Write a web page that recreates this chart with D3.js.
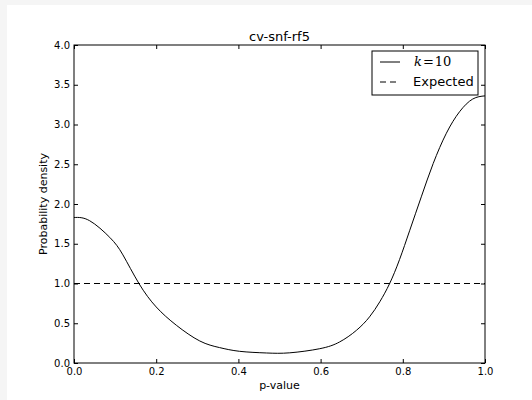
<!DOCTYPE html>
<html>
<head>
<meta charset="utf-8">
<script src="https://cdn.jsdelivr.net/npm/d3@7"></script>
<style>
  html, body { margin: 0; padding: 0; background: #f5f5f5; }
  svg { display: block; }
  text { font-family: "DejaVu Sans", sans-serif; fill: #000; }
</style>
</head>
<body>
<script>
// p-values and density
var pValues = [0, 0.038, 0.087, 0.119, 0.158, 0.2, 0.249, 0.306, 0.354, 0.403, 0.468,
               0.525, 0.598, 0.646, 0.687, 0.719, 0.744, 0.768, 0.792, 0.817, 0.845,
               0.874, 0.906, 0.938, 0.97, 1.0];
var density = [1.83, 1.79, 1.58, 1.36, 1.0, 0.705, 0.475, 0.277, 0.194, 0.147, 0.126,
               0.128, 0.18, 0.264, 0.41, 0.58, 0.77, 1.0, 1.3, 1.67, 2.09,
               2.51, 2.89, 3.16, 3.32, 3.36];
var expected = [[0, 1], [1, 1]];
var xTicks = [0, 0.2, 0.4, 0.6, 0.8, 1.0];
var yTicks = [0, 0.5, 1.0, 1.5, 2.0, 2.5, 3.0, 3.5, 4.0];

var W = 532, H = 400;
var axL = 74, axR = 485, axT = 45, axB = 363;

var svg = d3.select("body").append("svg")
    .attr("width", W)
    .attr("height", H);

// white figure area
svg.append("rect")
    .attr("x", 7).attr("y", 5)
    .attr("width", W - 7).attr("height", H - 5)
    .attr("fill", "#fff");

var x = d3.scaleLinear().domain([0, 1]).range([axL, axR]);
var y = d3.scaleLinear().domain([0, 4]).range([axB, axT]);

var data = pValues.map(function (p, i) { return [p, density[i]]; });

var line = d3.line()
    .x(function (d) { return x(d[0]); })
    .y(function (d) { return y(d[1]); })
    .curve(d3.curveNatural);

svg.append("path")
    .datum(data)
    .attr("d", line)
    .attr("fill", "none")
    .attr("stroke", "#000")
    .attr("stroke-width", 1);

svg.append("path")
    .datum(expected)
    .attr("d", line)
    .attr("fill", "none")
    .attr("stroke", "#000")
    .attr("stroke-width", 1)
    .attr("stroke-dasharray", "6,4");

// axes, ticks inside on all four sides
var tk = -4;
svg.append("g").attr("transform", "translate(0," + axB + ")")
    .call(d3.axisBottom(x).tickValues(xTicks).tickSizeInner(tk).tickSizeOuter(0).tickPadding(5)
        .tickFormat(d3.format(".1f")));
svg.append("g").attr("transform", "translate(0," + axT + ")")
    .call(d3.axisTop(x).tickValues(xTicks).tickSizeInner(tk).tickSizeOuter(0).tickFormat(""));
svg.append("g").attr("transform", "translate(" + axL + ",0)")
    .call(d3.axisLeft(y).tickValues(yTicks).tickSizeInner(tk).tickSizeOuter(0).tickPadding(4)
        .tickFormat(d3.format(".1f")));
svg.append("g").attr("transform", "translate(" + axR + ",0)")
    .call(d3.axisRight(y).tickValues(yTicks).tickSizeInner(tk).tickSizeOuter(0).tickFormat(""));

svg.selectAll(".tick text")
    .style("font-family", "DejaVu Sans, sans-serif")
    .style("font-size", "10px")
    .attr("fill", "#000");
svg.selectAll(".domain").attr("stroke", "none");
svg.selectAll(".tick line").attr("stroke", "#000");

// frame
svg.append("rect")
    .attr("x", axL).attr("y", axT)
    .attr("width", axR - axL).attr("height", axB - axT)
    .attr("fill", "none").attr("stroke", "#000").attr("stroke-width", 1);

// title and labels
svg.append("text")
    .attr("x", (axL + axR) / 2).attr("y", 41)
    .attr("text-anchor", "middle")
    .style("font-size", "13px")
    .text("cv-snf-rf5");

svg.append("text")
    .attr("x", (axL + axR) / 2).attr("y", 389)
    .attr("text-anchor", "middle")
    .style("font-size", "11px")
    .text("p-value");

svg.append("text")
    .attr("transform", "translate(47," + (axT + axB) / 2 + ")rotate(-90)")
    .attr("text-anchor", "middle")
    .style("font-size", "11px")
    .text("Probability density");

// legend
var lg = svg.append("g");
lg.append("rect")
    .attr("x", 372).attr("y", 51)
    .attr("width", 106).attr("height", 44)
    .attr("fill", "#fff").attr("stroke", "#000");

lg.append("line")
    .attr("x1", 380).attr("x2", 400).attr("y1", 62).attr("y2", 62)
    .attr("stroke", "#000");
lg.append("line")
    .attr("x1", 380).attr("x2", 400).attr("y1", 82).attr("y2", 82)
    .attr("stroke", "#000").attr("stroke-dasharray", "6,4");

var t1 = lg.append("text").attr("x", 414).attr("y", 66)
    .style("font-size", "13px");
t1.append("tspan").style("font-family", "DejaVu Serif, serif").style("font-style", "italic").text("k");
t1.append("tspan").style("font-family", "DejaVu Serif, serif").attr("dx", 1).text("=");
t1.append("tspan").style("font-family", "DejaVu Serif, serif").attr("dx", 1).text("10");

lg.append("text").attr("x", 413).attr("y", 86)
    .style("font-size", "13px")
    .text("Expected");
</script>
</body>
</html>
